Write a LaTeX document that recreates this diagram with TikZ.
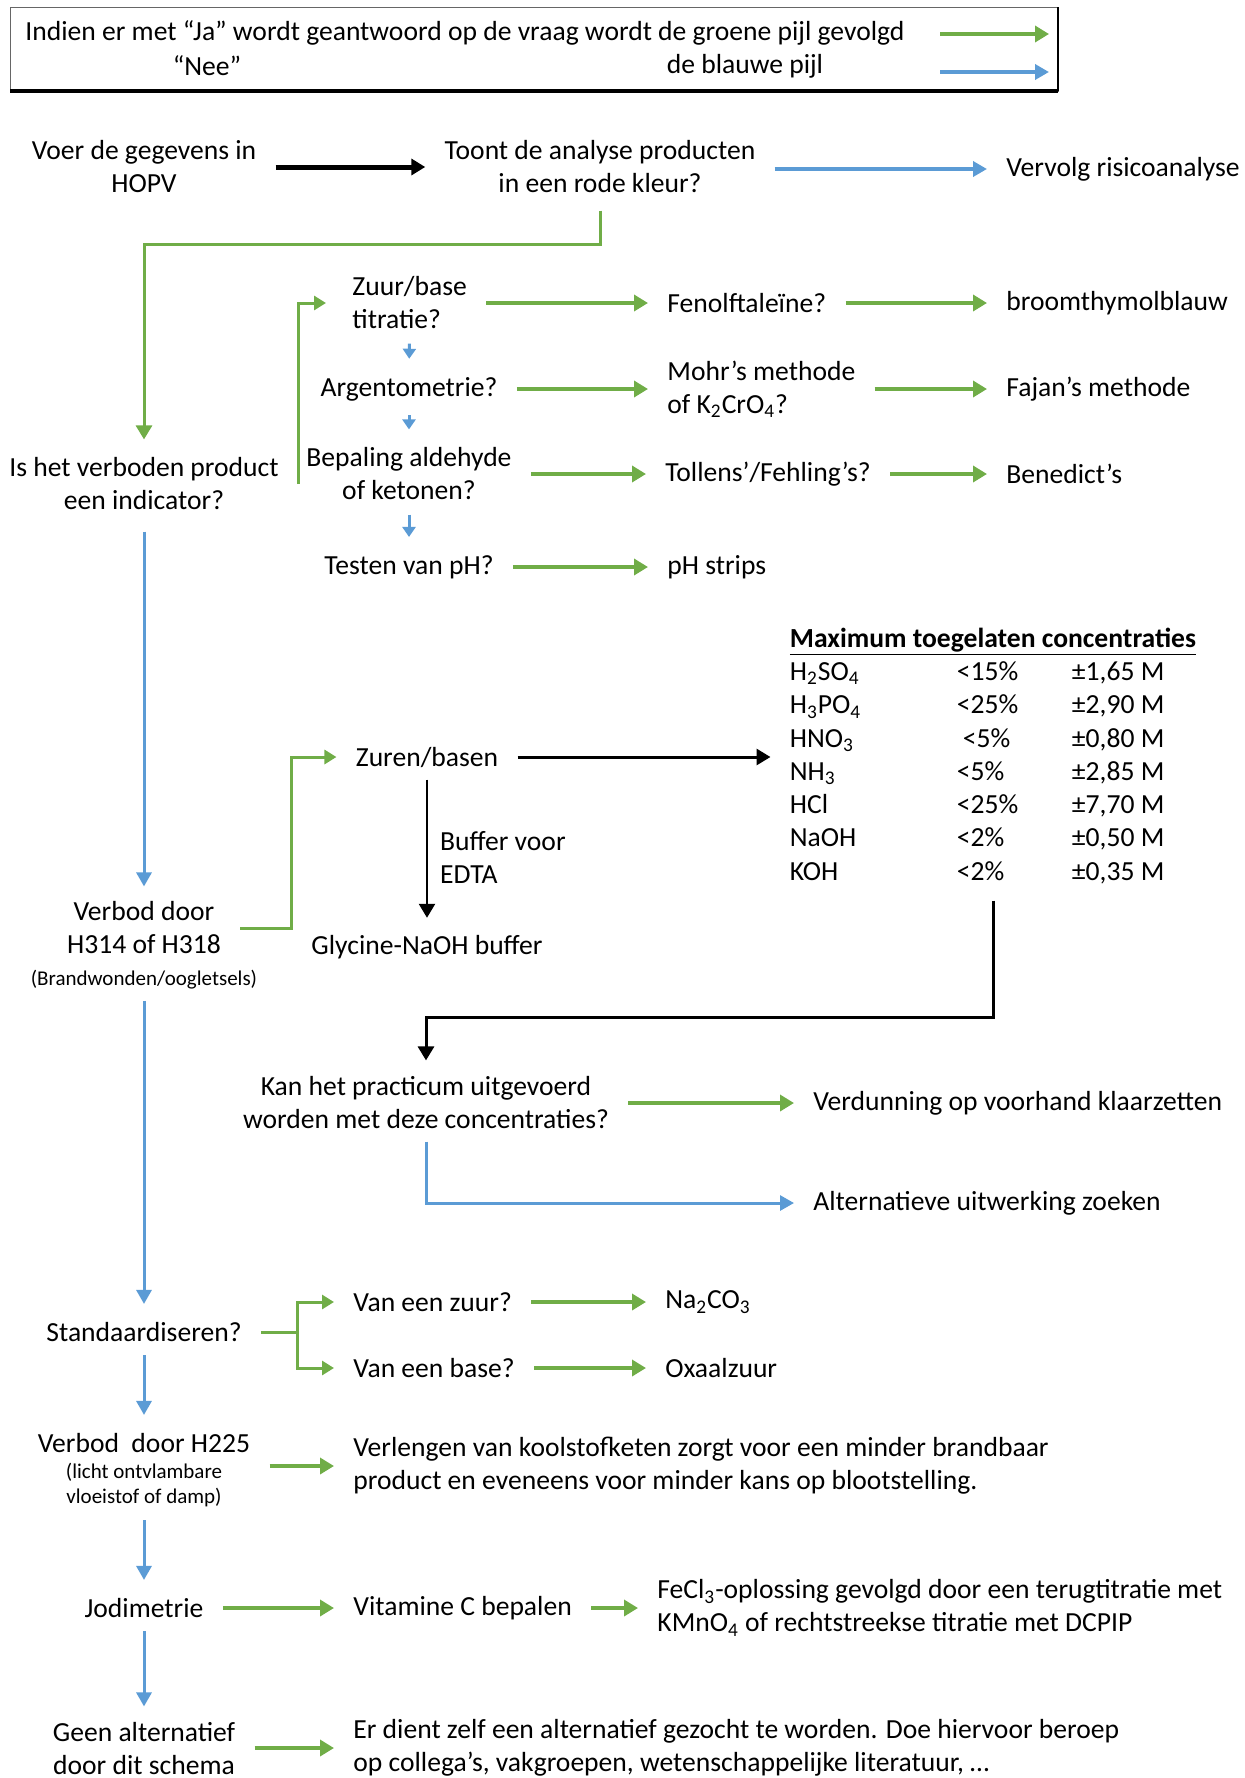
\documentclass[tikz,border=0pt]{standalone}
\usepackage{fontspec}
\setmainfont{Carlito}
\usetikzlibrary{arrows.meta,positioning}
\definecolor{jagreen}{HTML}{70AD47}
\definecolor{neeblue}{HTML}{5B9BD5}

\begin{document}
\begin{tikzpicture}[x=0.5pt,y=-0.5pt,
    font=\fontsize{13.8pt}{16.5pt}\selectfont,
    every node/.style={inner xsep=9.5pt,inner ysep=1pt},
    txt/.style={align=center},
    ltxt/.style={align=left,anchor=west},
    note/.style={font=\fontsize{10.5pt}{12.5pt}\selectfont},
    ja/.style={draw=jagreen,line width=2pt,-{Triangle[length=7pt,width=8pt]}},
    jathin/.style={draw=jagreen,line width=1.5pt,-{Triangle[length=6pt,width=7pt]}},
    nee/.style={draw=neeblue,line width=1.5pt,-{Triangle[length=7pt,width=7.5pt]}},
    needown/.style={nee,shorten <=5.5pt,shorten >=8pt},
    neesmall/.style={draw=neeblue,line width=1.5pt,-{Triangle[length=5pt,width=6.5pt]},shorten <=6pt,shorten >=8pt},
    flow/.style={draw=black,line width=1.5pt,-{Triangle[length=7pt,width=8pt]}}]
  \useasboundingbox (0,0) rectangle (1245,1778);

  \draw[black!60,line width=0.5pt] (10,7) rectangle (1058,91);
  \draw[line width=0.8pt] (1058,7) -- (1058,91);
  \draw[line width=1.6pt] (10,91) -- (1058,91);
  \node[ltxt,inner xsep=0pt] (legja) at (25,33) {Indien er met “Ja” wordt geantwoord op de vraag wordt de groene pijl gevolgd};
  \node (legnee) at (207,66) {“Nee”};
  \node (legblauw) at (745,66) {de blauwe pijl};
  \coordinate (jastart) at (940,34);
  \coordinate (jaend) at (1049,34);
  \coordinate (neestart) at (940,72);
  \coordinate (neeend) at (1049,72);
  \draw[ja] (jastart) -- (jaend);
  \draw[nee,line width=2pt] (neestart) -- (neeend);

  \node[txt] (voer) at (144,167) {Voer de gegevens in\\HOPV};
  \node[txt] (toont) at (600,167) {Toont de analyse producten\\in een rode kleur?};
  \node[ltxt] (vervolg) at (987,169) {Vervolg risicoanalyse};
  \node[txt] (indic) at (144,484) {Is het verboden product\\een indicator?};
  \node[ltxt] (zuur) at (333,303) {Zuur/base\\titratie?};
  \node[ltxt] (fenol) at (648,303) {Fenolftaleïne?};
  \node[ltxt] (broom) at (987,303) {broomthymolblauw};
  \node[txt] (argento) at (409,389) {Argentometrie?};
  \node[ltxt] (mohr) at (648,389) {Mohr’s methode\\of K\textsubscript{2}CrO\textsubscript{4}?};
  \node[ltxt] (fajan) at (987,389) {Fajan’s methode};
  \node[txt] (aldeh) at (409,474) {Bepaling aldehyde\\of ketonen?};
  \node[ltxt] (tollens) at (646,474) {Tollens’/Fehling’s?};
  \node[ltxt] (bened) at (987,474) {Benedict’s};
  \node[txt] (testph) at (409,567) {Testen van pH?};
  \node[ltxt] (strips) at (648,567) {pH strips};

  \node[txt] (verbod) at (144,928) {Verbod door\\H314 of H318};
  \node[txt,note] (verbodnote) at (144,980) {(Brandwonden/oogletsels)};
  \node[txt] (zuren) at (427,757) {Zuren/basen};
  \node[txt] (glycine) at (427,947) {Glycine-NaOH buffer};
  \node[inner ysep=0pt] (conc) at (993,757) {\setlength\tabcolsep{0pt}\renewcommand\arraystretch{1.01}%
    \begin{tabular}{@{}p{83.5pt}p{57.5pt}l@{}}
      \multicolumn{3}{@{}l@{}}{\textbf{\underline{Maximum toegelaten concentraties}}}\\
      H\textsubscript{2}SO\textsubscript{4} & <15\% & ±1,65 M\\
      H\textsubscript{3}PO\textsubscript{4} & <25\% & ±2,90 M\\
      HNO\textsubscript{3} & \hspace{3pt}<5\% & ±0,80 M\\
      NH\textsubscript{3} & <5\% & ±2,85 M\\
      HCl & <25\% & ±7,70 M\\
      NaOH & <2\% & ±0,50 M\\
      KOH & <2\% & ±0,35 M
    \end{tabular}};

  \node[txt] (kan) at (426,1103) {Kan het practicum uitgevoerd\\worden met deze concentraties?};
  \node[ltxt] (verdun) at (794,1103) {Verdunning op voorhand klaarzetten};
  \node[ltxt] (altern) at (794,1203) {Alternatieve uitwerking zoeken};
  \node[txt] (standaard) at (144,1332) {Standaardiseren?};
  \node[ltxt] (zuurq) at (334,1302) {Van een zuur?};
  \node[ltxt] (baseq) at (334,1368) {Van een base?};
  \node[ltxt] (naco) at (646,1302) {Na\textsubscript{2}CO\textsubscript{3}};
  \node[ltxt] (oxaal) at (646,1368) {Oxaalzuur};
  \node[txt] (h225) at (144,1443) {Verbod~ door H225};
  \node[txt,note] (h225note) at (144,1485) {(licht ontvlambare\\vloeistof of damp)};
  \node[ltxt] (verleng) at (334,1466) {Verlengen van koolstofketen zorgt voor een minder brandbaar\\product en eveneens voor minder kans op blootstelling.};
  \node[txt] (jodi) at (144,1608) {Jodimetrie};
  \node[ltxt] (vitc) at (334,1608) {Vitamine C bepalen};
  \node[ltxt] (fecl) at (638,1608) {FeCl\textsubscript{3}-oplossing gevolgd door een terugtitratie met\\KMnO\textsubscript{4} of rechtstreekse titratie met DCPIP};
  \node[txt] (geen) at (144,1748) {Geen alternatief\\door dit schema};
  \node[ltxt] (dient) at (334,1748) {Er dient zelf een alternatief gezocht te worden. Doe hiervoor beroep\\op collega’s, vakgroepen, wetenschappelijke literatuur, …};

  \draw[flow,line width=2.5pt] (voer) -- (toont);
  \draw[nee,line width=2pt] (toont.east |- vervolg.west) -- (vervolg.west);
  \draw[ja,line width=1.5pt,shorten <=7.5pt,shorten >=8pt] (toont.south) -- ++(0,49) -| (indic.north);
  \draw[jathin,shorten >=3.5pt] (indic.east) |- (zuur.west);
  \draw[ja] (zuur) -- (fenol);
  \draw[ja] (fenol) -- (broom);
  \draw[ja] (argento) -- (mohr);
  \draw[ja] (mohr) -- (fajan);
  \draw[ja] (aldeh) -- (tollens);
  \draw[ja] (tollens) -- (bened);
  \draw[ja] (testph) -- (strips);
  \draw[neesmall] (zuur.south) -- (argento.north);
  \draw[neesmall] (argento.south) -- (aldeh.north);
  \draw[neesmall] (aldeh.south) -- (testph.north);

  \draw[needown,shorten <=9.5pt,shorten >=6.5pt] (indic.south) -- (verbod.north);
  \draw[jathin] (verbod.east) -- ++(51,0) |- (zuren.west);
  \draw[flow] (zuren) -- (conc);
  \draw[flow,line width=1.2pt,shorten <=5pt,shorten >=7.5pt] (zuren.south) -- (glycine.north)
    node[midway,anchor=west,align=left,inner xsep=6pt,yshift=-3pt] (bufferlbl) {Buffer voor\\EDTA};
  \draw[flow,shorten <=5pt,shorten >=7pt] (conc.south) -- ++(0,127) -| (kan.north);
  \draw[ja] (kan) -- (verdun);
  \draw[nee,shorten <=5pt] (kan.south) |- (altern.west);

  \draw[needown,shorten <=4.5pt] (verbodnote.south) -- (standaard.north);
  \draw[jathin] (standaard.east) -- ++(37,0) coordinate (fork) |- (zuurq.west);
  \draw[jathin] (fork) |- (baseq.west);
  \draw[ja] (zuurq) -- (naco);
  \draw[ja] (baseq) -- (oxaal);
  \draw[needown] (standaard.south) -- (h225.north);
  \draw[ja,line width=1.8pt] (h225.east |- verleng.west) -- (verleng.west);
  \draw[needown] (h225note.south) -- (jodi.north);
  \draw[ja] (jodi) -- (vitc);
  \draw[ja] (vitc) -- (fecl);
  \draw[needown,shorten >=6.5pt] (jodi.south) -- (geen.north);
  \draw[ja] (geen) -- (dient);
\end{tikzpicture}
\end{document}
